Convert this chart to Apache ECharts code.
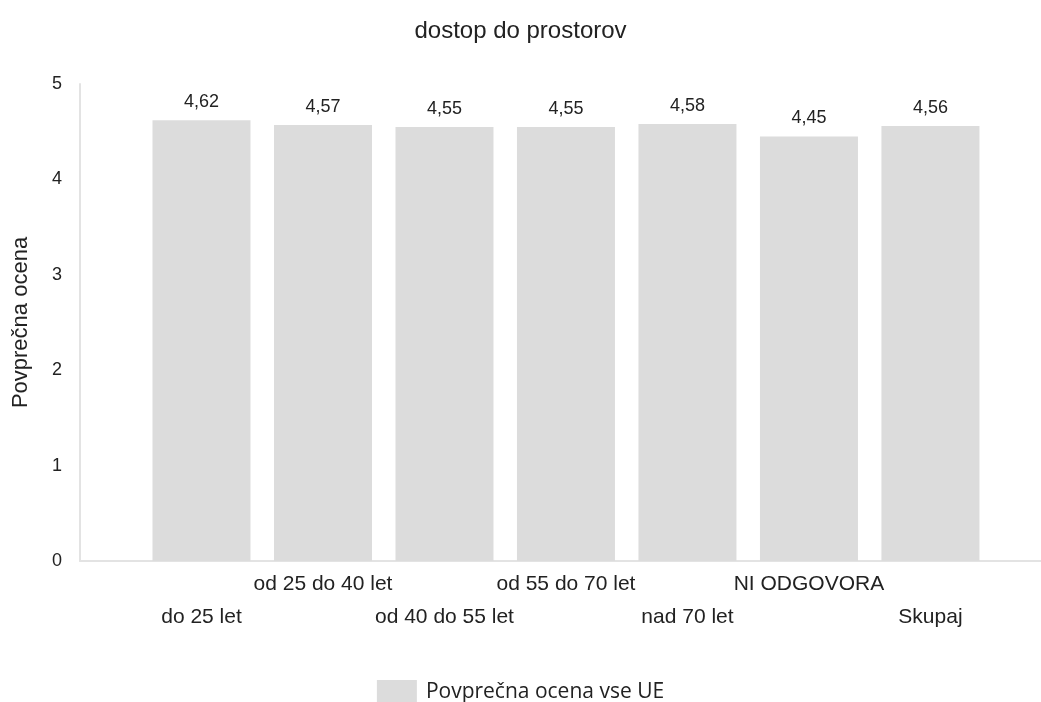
<!DOCTYPE html>
<html>
<head>
<meta charset="utf-8">
<script src="https://cdn.jsdelivr.net/npm/echarts@6/dist/echarts.min.js"></script>
<style>html,body{margin:0;padding:0;background:#fff}#c{width:1041px;height:702px}</style>
</head>
<body>
<div id="c"></div>
<script>
const titleText = 'dostop do prostorov';
const categories = ['do 25 let', 'od 25 do 40 let', 'od 40 do 55 let', 'od 55 do 70 let', 'nad 70 let', 'NI ODGOVORA', 'Skupaj'];
const values = [4.62, 4.57, 4.55, 4.55, 4.58, 4.45, 4.56];
const seriesName = 'Povprečna ocena vse UE';
const yAxisName = 'Povprečna ocena';
const yTicks = [0, 1, 2, 3, 4, 5];

const font = 'Liberation Sans, Arial, sans-serif';
const chart = echarts.init(document.getElementById('c'));
chart.setOption({
  animation: false,
  title: {
    text: titleText, left: 'center', top: 14,
    textStyle: { fontFamily: font, fontSize: 24, fontWeight: 'normal', color: '#222' }
  },
  legend: {
    left: 'center', top: 680, padding: 0,
    itemWidth: 40, itemHeight: 25, itemGap: 10,
    icon: 'rect',
    textStyle: { fontFamily: 'Open Sans, sans-serif', fontSize: 21, color: '#222', padding: [0, 0, 3, 4] },
    data: [seriesName]
  },
  grid: { left: 80, right: 0, top: 84, bottom: 141, outerBoundsMode: 'none', containLabel: false },
  xAxis: {
    type: 'value', min: 0, max: 7.91, interval: 1,
    splitLine: { show: false },
    axisTick: { show: false },
    axisLine: { show: true, lineStyle: { color: '#e3e3e3', width: 2 } },
    axisLabel: {
      margin: 13,
      showMaxLabel: false,
      formatter: function (v) {
        const i = Math.round(v) - 1;
        if (Math.abs(v - Math.round(v)) > 1e-6 || i < 0 || i >= categories.length) return '';
        return i % 2 === 0 ? '{lo|' + categories[i] + '}' : '{hi|' + categories[i] + '}';
      },
      rich: {
        hi: { fontFamily: font, fontSize: 21, color: '#222' },
        lo: { fontFamily: font, fontSize: 21, color: '#222', padding: [33, 0, 0, 0] }
      }
    }
  },
  yAxis: {
    type: 'value', min: yTicks[0], max: yTicks[yTicks.length - 1], interval: 1,
    name: yAxisName, nameLocation: 'middle', nameGap: 48, nameRotate: 90,
    nameTextStyle: { fontFamily: font, fontSize: 22, color: '#222' },
    splitLine: { show: false },
    axisTick: { show: false },
    axisLine: { show: true, lineStyle: { color: '#e3e3e3', width: 2 } },
    axisLabel: { fontFamily: font, fontSize: 18, color: '#222', margin: 18 }
  },
  series: [{
    name: seriesName,
    type: 'bar',
    barWidth: 98,
    itemStyle: { color: '#dcdcdc' },
    label: {
      show: true, position: 'top', distance: 9,
      fontFamily: font, fontSize: 18, color: '#222',
      formatter: function (p) { return p.value[1].toFixed(2).replace('.', ','); }
    },
    data: values.map(function (v, i) { return [i + 1, v]; })
  }]
});
</script>
</body>
</html>
